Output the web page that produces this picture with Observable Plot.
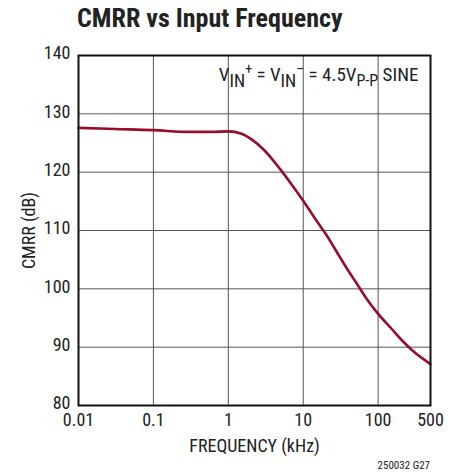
<!DOCTYPE html>
<html><head><meta charset="utf-8">
<script src="https://cdn.jsdelivr.net/npm/d3@7"></script>
<script src="https://cdn.jsdelivr.net/npm/@observablehq/plot@0.6"></script>
<style>
body{margin:0;background:#fff;}
#wrap{position:relative;width:458px;height:474px;font-family:"Liberation Sans Narrow","Roboto Condensed","Liberation Sans",sans-serif;font-stretch:condensed;}
#title{position:absolute;left:77px;top:3px;font-size:26px;font-weight:bold;color:#222;white-space:nowrap;}
#chart{position:absolute;left:0;top:40px;}
#caption{position:absolute;right:28px;top:459px;font-size:11px;color:#222;}
</style></head><body>
<div id="wrap">
<div id="title">CMRR vs Input Frequency</div>
<div id="chart"></div>
<div id="caption">250032 G27</div>
</div>
<script>
const freqKHz = [0.01, 0.03, 0.1, 0.3, 0.6, 1, 1.5, 2, 3, 5, 7, 10, 15, 20, 30, 40, 50, 70, 100, 150, 200, 300, 500];
const cmrrDB  = [127.6, 127.4, 127.2, 126.9, 126.9, 127.0, 126.6, 125.7, 123.8, 120.4, 117.9, 115.1, 111.7, 109.4, 105.7, 103.1, 101.2, 98.3, 95.7, 93.2, 91.4, 89.2, 87.1];
const xTicks = [0.01, 0.1, 1, 10, 100, 500];
const xTickLabels = ["0.01", "0.1", "1", "10", "100", "500"];
const yTicks = [80, 90, 100, 110, 120, 130, 140];
const data = freqKHz.map((f, i) => ({f, v: cmrrDB[i]}));

const font = '"Liberation Sans Narrow","Roboto Condensed","Liberation Sans",sans-serif';
const plot = Plot.plot({
  width: 458, height: 434,
  marginLeft: 78, marginRight: 28, marginTop: 15, marginBottom: 69,
  style: {fontFamily: font, fontSize: "18px", color: "#222", background: "#fff", fontStretch: "condensed"},
  x: {type: "log", domain: [0.01, 500], label: null},
  y: {domain: [80, 140], label: null},
  marks: [
    Plot.gridX(xTicks, {stroke: "#555", strokeOpacity: 1, strokeWidth: 1}),
    Plot.gridY(yTicks, {stroke: "#555", strokeOpacity: 1, strokeWidth: 1}),
    Plot.axisX([], {tickSize: 0, label: "FREQUENCY (kHz)", labelArrow: "none", labelAnchor: "center", labelOffset: 46, fontSize: 18}),
    Plot.text(xTicks, {x: d => d, text: (d, i) => xTickLabels[i], frameAnchor: "bottom", dy: 20, fontSize: 18, fill: "#222"}),
    Plot.axisY(yTicks, {tickSize: 0, tickPadding: 8, dy: -2, fontSize: 18, label: "CMRR (dB)", labelArrow: "none", labelAnchor: "center", labelOffset: 56}),
    Plot.line(data, {x: "f", y: "v", stroke: "#980c2c", strokeWidth: 2.6, curve: "monotone-x"}),
    Plot.frame({stroke: "#111", strokeWidth: 2})
  ]
});
document.getElementById("chart").appendChild(plot);

// annotation with sub/superscripts
const sx = plot.scale("x"), sy = plot.scale("y");
const svg = d3.select(plot);
const t = svg.append("text")
  .attr("x", sx.apply(350)).attr("y", sy.apply(135.6))
  .attr("text-anchor", "end")
  .attr("font-family", font).attr("font-size", 19).attr("fill", "#222");
t.append("tspan").text("V");
t.append("tspan").attr("font-size", 18).attr("dy", 6).text("IN");
t.append("tspan").attr("font-size", 14).attr("dy", -13).text("+");
t.append("tspan").attr("dy", 7).text(" = V");
t.append("tspan").attr("font-size", 18).attr("dy", 6).text("IN");
t.append("tspan").attr("font-size", 14).attr("dy", -13).text("\u2013");
t.append("tspan").attr("dy", 7).text(" = 4.5V");
t.append("tspan").attr("font-size", 16).attr("dy", 5).text("P-P");
t.append("tspan").attr("dy", -5).text(" SINE");
</script>
</body></html>
